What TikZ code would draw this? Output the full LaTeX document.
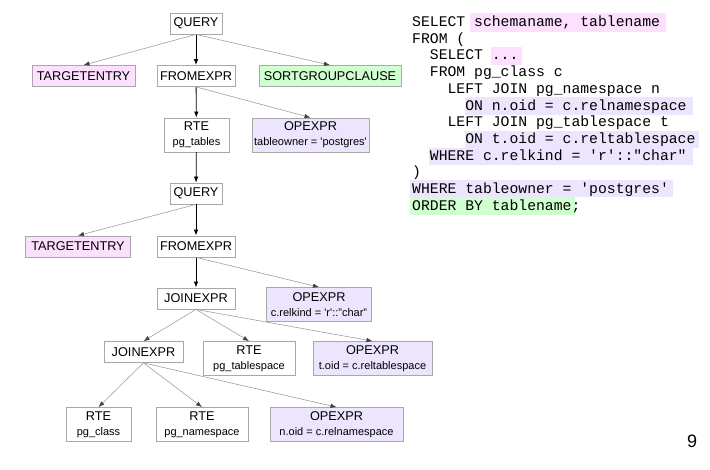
\documentclass[tikz,border=0pt]{standalone}
\usepackage{fontspec}
\setmainfont{Liberation Sans}
\setmonofont{Liberation Mono}
\usetikzlibrary{arrows.meta}

\definecolor{pinkfill}{RGB}{253,224,253}
\definecolor{greenfill}{RGB}{208,255,208}
\definecolor{lilacfill}{RGB}{237,229,253}
\definecolor{boxline}{RGB}{168,168,168}
\definecolor{edgegray}{RGB}{160,160,160}

\newcommand{\subf}{\fontsize{11}{13}\selectfont}
\newcommand{\qmark}{\textquotesingle}

\begin{document}
\begin{tikzpicture}
    [x=1pt,y=-1pt,
     box/.style={draw=boxline,line width=0.8pt,inner sep=0pt,align=center,
                 minimum height=21pt,font=\fontsize{12.7}{15}\selectfont},
     twoline/.style={box,minimum height=34pt},
     pinkbox/.style={fill=pinkfill},
     greenbox/.style={fill=greenfill},
     lilacbox/.style={fill=lilacfill},
     main/.style={-{Latex[length=6pt,width=4.5pt]},line width=0.8pt},
     side/.style={-{Latex[length=6pt,width=4.5pt,color=black!75]},line width=0.6pt,draw=edgegray},
     code/.style={anchor=base west,inner sep=0pt,font=\ttfamily\fontsize{14.75}{16.7}\selectfont}]

    \useasboundingbox (0,0) rectangle (710,469);

    % outer query:
    \node (q1) at (196,23.5) [box,minimum width=52pt] {QUERY};
    \node (te1) at (83.5,76) [box,pinkbox,minimum width=103pt] {TARGETENTRY};
    \node (fe1) at (196,76) [box,minimum width=78pt] {FROMEXPR};
    \node (sgc) at (330,76) [box,greenbox,minimum width=142pt] {SORTGROUPCLAUSE};
    \node (rte1) at (196.5,135) [twoline,minimum width=65pt] {RTE\\\subf pg\_tables};
    \node (op1) at (310.5,135) [twoline,lilacbox,minimum width=117pt] {OPEXPR\\\subf tableowner = \qmark postgres\qmark};

    % subquery:
    \node (q2) at (196,193.5) [box,minimum width=52pt] {QUERY};
    \node (te2) at (78,246.5) [box,pinkbox,minimum width=105pt] {TARGETENTRY};
    \node (fe2) at (196,246.5) [box,minimum width=78pt] {FROMEXPR};
    \node (je1) at (196,298.5) [box,minimum width=78pt] {JOINEXPR};
    \node (op2) at (319,304.5) [twoline,lilacbox,minimum width=105pt] {OPEXPR\\\subf c.relkind = \qmark r\qmark::"char"};

    % joins:
    \node (je2) at (143.5,352) [box,minimum width=79pt] {JOINEXPR};
    \node (rte2) at (249,358.5) [twoline,minimum width=92pt] {RTE\\\subf pg\_tablespace};
    \node (op3) at (372.5,358.5) [twoline,lilacbox,minimum width=119pt] {OPEXPR\\\subf t.oid = c.reltablespace};
    \node (rte3) at (98.5,424.5) [twoline,minimum width=65pt] {RTE\\\subf pg\_class};
    \node (rte4) at (202,424.5) [twoline,minimum width=92pt] {RTE\\\subf pg\_namespace};
    \node (op4) at (336.5,424.5) [twoline,lilacbox,minimum width=133pt] {OPEXPR\\\subf n.oid = c.relnamespace};

    % connect nodes:
    \draw [side] (q1.south) to (te1.north);
    \draw [main] (q1) to (fe1);
    \draw [side] (q1.south) to (sgc.north);
    \draw [main] (fe1) to (rte1);
    \draw [side] (fe1.south) to (op1.north);
    \draw [main] (rte1) to (q2);
    \draw [side] (q2.south) to (te2.north);
    \draw [main] (q2) to (fe2);
    \draw [main] (fe2) to (je1);
    \draw [side] (fe2.south) to (op2.north);
    \draw [side] (je1.south) to (je2.north);
    \draw [side] (je1.south) to (rte2.north);
    \draw [side] (je1.south) to (op3.north);
    \draw [side] (je2.south) to (rte3.north);
    \draw [side] (je2.south) to (rte4.north);
    \draw [side] (je2.south) to (op4.north);

    % highlights:
    \fill [pinkfill] (470,13.3) rectangle (665.7,31.7);
    \fill [pinkfill] (490.7,47.3) rectangle (521.7,65);
    \fill [lilacfill] (465,97.3) rectangle (693.3,115);
    \fill [lilacfill] (465,131) rectangle (699,148.3);
    \fill [lilacfill] (429,147.7) rectangle (692.7,165);
    \fill [lilacfill] (410,180) rectangle (672.7,197.3);
    \fill [greenfill] (410,197.3) rectangle (575,215);

    % sql text:
    \node (l1) at (412,26.5) [code] {SELECT schemaname, tablename};
    \node (l2) at (412,43.2) [code] {FROM (};
    \node (l3) at (429.7,59.9) [code] {SELECT ...};
    \node (l4) at (429.7,76.6) [code] {FROM pg\_class c};
    \node (l5) at (447.4,93.3) [code] {LEFT JOIN pg\_namespace n};
    \node (l6) at (465.1,110) [code] {ON n.oid = c.relnamespace};
    \node (l7) at (447.4,126.7) [code] {LEFT JOIN pg\_tablespace t};
    \node (l8) at (465.1,143.4) [code] {ON t.oid = c.reltablespace};
    \node (l9) at (429.7,160.1) [code] {WHERE c.relkind = \qmark r\qmark::"char"};
    \node (l10) at (412,176.8) [code] {)};
    \node (l11) at (412,193.5) [code] {WHERE tableowner = \qmark postgres\qmark};
    \node (l12) at (412,210.2) [code] {ORDER BY tablename;};

    % page number:
    \node (pnum) at (692,441.5) [font=\fontsize{18}{18}\selectfont] {9};

  \end{tikzpicture}
\end{document}
